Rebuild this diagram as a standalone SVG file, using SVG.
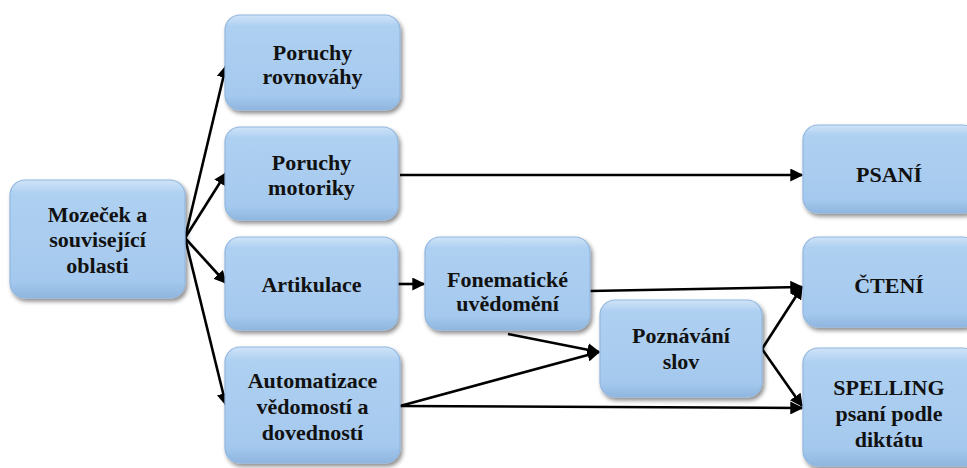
<svg xmlns="http://www.w3.org/2000/svg" width="967" height="468" viewBox="0 0 967 468">
<defs>
<linearGradient id="g" x1="0" y1="0" x2="0" y2="1">
<stop offset="0" stop-color="#cfe3f8"/>
<stop offset="0.12" stop-color="#aed0f1"/>
<stop offset="0.85" stop-color="#a5c9ee"/>
<stop offset="1" stop-color="#8fb6e0"/>
</linearGradient>
<filter id="sh" x="-10%" y="-10%" width="130%" height="130%">
<feDropShadow dx="2" dy="3" stdDeviation="2" flood-color="#000" flood-opacity="0.45"/>
</filter>
<marker id="ah" viewBox="0 0 10 10" refX="9" refY="5" markerWidth="5" markerHeight="5" orient="auto" markerUnits="strokeWidth">
<path d="M0,0 L10,5 L0,10 Z" fill="#000"/>
</marker>
</defs>
<style>
.box{fill:url(#g);stroke:#92b7df;stroke-width:1.2;filter:url(#sh)}
.t{font-weight:bold;font-size:22px;fill:#111;text-anchor:middle}
.c{fill:none;stroke:#000;stroke-width:2.6}
.a{marker-end:url(#ah)}
</style>
<rect width="967" height="468" fill="#fff"/>
<g id="connectors">
<line class="c a" x1="185" y1="238" x2="226" y2="66"/>
<line class="c a" x1="185" y1="238" x2="226" y2="173"/>
<line class="c a" x1="185" y1="238" x2="226" y2="283"/>
<line class="c a" x1="185" y1="238" x2="226" y2="405"/>
<line class="c a" x1="400" y1="175" x2="802" y2="175"/>
<line class="c a" x1="398" y1="284" x2="424" y2="284"/>
<line class="c a" x1="590" y1="291" x2="802" y2="287"/>
<line class="c a" x1="508" y1="334" x2="599" y2="352"/>
<line class="c a" x1="400" y1="406" x2="599" y2="352"/>
<line class="c a" x1="400" y1="406" x2="802" y2="408"/>
<line class="c a" x1="762" y1="349" x2="802" y2="287"/>
<line class="c a" x1="762" y1="349" x2="802" y2="406"/>
</g>
<g font-family="'Liberation Serif', 'DejaVu Serif', serif">
<g id="n-mozecek">
<rect class="box" x="10" y="180" width="175" height="118" rx="15"/>
<text class="t" x="97.5" y="222">Mozeček a</text>
<text class="t" x="97.5" y="247">související</text>
<text class="t" x="97.5" y="273">oblasti</text>
</g>
<g id="n-rovnovahy">
<rect class="box" x="225" y="15" width="175" height="95" rx="15"/>
<text class="t" x="312.5" y="60">Poruchy</text>
<text class="t" x="312.5" y="84">rovnováhy</text>
</g>
<g id="n-motoriky">
<rect class="box" x="225" y="127" width="173" height="93" rx="15"/>
<text class="t" x="311.5" y="170">Poruchy</text>
<text class="t" x="311.5" y="195">motoriky</text>
</g>
<g id="n-artikulace">
<rect class="box" x="225" y="237" width="173" height="93" rx="15"/>
<text class="t" x="311.5" y="292">Artikulace</text>
</g>
<g id="n-automatizace">
<rect class="box" x="225" y="347" width="175" height="116" rx="15"/>
<text class="t" x="312.5" y="388">Automatizace</text>
<text class="t" x="312.5" y="414">vědomostí a</text>
<text class="t" x="312.5" y="440">dovedností</text>
</g>
<g id="n-fonematicke">
<rect class="box" x="425" y="237" width="165" height="93" rx="15"/>
<text class="t" x="507.5" y="287">Fonematické</text>
<text class="t" x="507.5" y="311">uvědomění</text>
</g>
<g id="n-poznavani">
<rect class="box" x="600" y="300" width="162" height="97" rx="15"/>
<text class="t" x="681" y="343">Poznávání</text>
<text class="t" x="681" y="369">slov</text>
</g>
<g id="n-psani">
<rect class="box" x="803" y="125" width="175" height="88" rx="15"/>
<text class="t" x="889" y="182">PSANÍ</text>
</g>
<g id="n-cteni">
<rect class="box" x="803" y="237" width="175" height="90" rx="15"/>
<text class="t" x="889" y="293">ČTENÍ</text>
</g>
<g id="n-spelling">
<rect class="box" x="803" y="348" width="175" height="118" rx="15"/>
<text class="t" x="889" y="395">SPELLING</text>
<text class="t" x="889" y="421">psaní podle</text>
<text class="t" x="889" y="447">diktátu</text>
</g>
</g>
</svg>
